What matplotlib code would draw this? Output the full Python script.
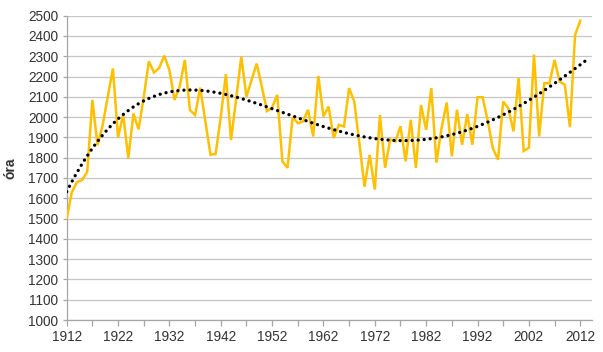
import numpy as np
import matplotlib
matplotlib.use("Agg")
import matplotlib.pyplot as plt

plt.rcParams["font.family"] = ["Liberation Sans", "DejaVu Sans"]

years = list(range(1912, 2013))
hours = [
    1500, 1630, 1680, 1690, 1730, 2085, 1862, 1960, 2100, 2240,  # 1912-1921
    1900, 2012, 1797, 2018, 1940, 2098, 2275, 2220, 2242, 2303,  # 1922-1931
    2232, 2085, 2150, 2282, 2035, 2010, 2145, 1980, 1815, 1818,  # 1932-1941
    2000, 2212, 1887, 2090, 2298, 2100, 2183, 2264, 2150, 2030,  # 1942-1951
    2047, 2110, 1782, 1750, 2000, 1970, 1978, 2036, 1905, 2203,  # 1952-1961
    2003, 2052, 1897, 1962, 1954, 2143, 2077, 1870, 1657, 1814,  # 1962-1971
    1643, 2010, 1750, 1890, 1880, 1955, 1782, 1987, 1750, 2060,  # 1972-1981
    1937, 2143, 1776, 1946, 2072, 1807, 2036, 1864, 2015, 1864,  # 1982-1991
    2098, 2098, 1980, 1845, 1790, 2077, 2044, 1930, 2192, 1833,  # 1992-2001
    1849, 2308, 1905, 2167, 2167, 2282, 2175, 2160, 1951, 2405,  # 2002-2011
    2475,                                                        # 2012
]
trend_order = 4
trend_forward = 1  # trendline forecast one year ahead

x = np.array(years, dtype=float)
y = np.array(hours, dtype=float)
xc = x - x.mean()
coef = np.polyfit(xc, y, trend_order)
x_trend = np.arange(years[0], years[-1] + trend_forward + 1, 0.25)
y_trend = np.polyval(coef, x_trend - x.mean())

fig = plt.figure(figsize=(6.03, 3.52), dpi=100)
ax = fig.add_axes([0.1106, 0.0909, 0.8712, 0.8645])

ax.plot(years, hours, color="#FFC000", linewidth=1.8, solid_joinstyle="miter", zorder=3)
ax.plot(x_trend, y_trend, color="black", linewidth=2.4,
        linestyle=(0, (0.01, 1.8)), dash_capstyle="round", zorder=4)

ax.set_xlim(1912, 2014.3)
ax.set_ylim(1000, 2500)
ax.set_yticks(range(1000, 2501, 100))
ax.set_xticks(range(1912, 2013, 10))
ax.set_xticks(range(1917, 2014, 10), minor=True)

ax.grid(axis="y", color="#c6c6c6", linewidth=0.9)
ax.set_axisbelow(True)
for side in ("top", "right"):
    ax.spines[side].set_visible(False)
for side in ("left", "bottom"):
    ax.spines[side].set_color("#a6a6a6")
    ax.spines[side].set_linewidth(0.9)

ax.tick_params(axis="both", which="both", color="#a6a6a6", width=0.9,
               labelsize=9.8, labelcolor="#333333")
ax.tick_params(axis="x", which="major", length=4, pad=3)
ax.tick_params(axis="x", which="minor", length=4)
ax.tick_params(axis="y", length=3, pad=3)

ax.set_ylabel("óra", fontsize=10, fontweight="bold", color="#333333", labelpad=8)

fig.savefig("out.png", dpi=100)
